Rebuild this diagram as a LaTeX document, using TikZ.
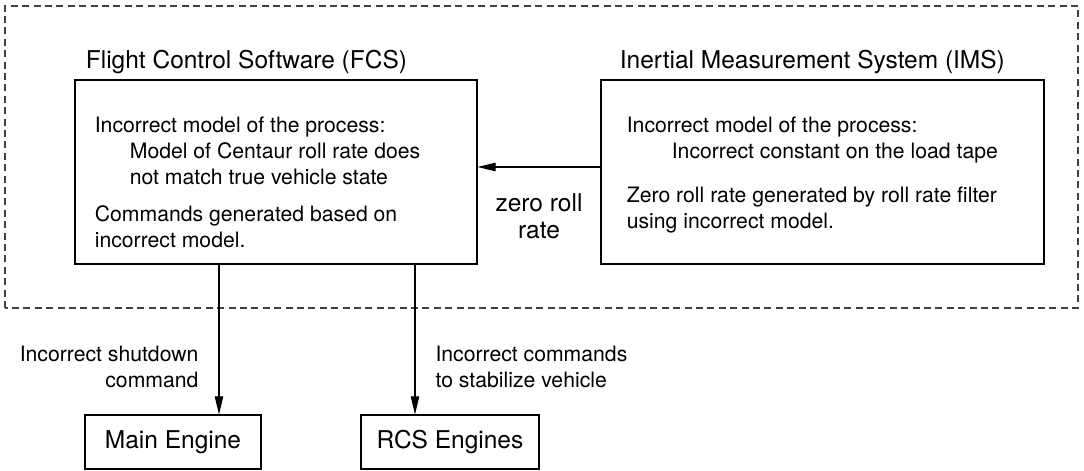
\documentclass[tikz,border=0pt]{standalone}
\usepackage{fontspec}
\setmainfont{TeX Gyre Heros}
\usetikzlibrary{arrows.meta,positioning,calc}
\newcommand{\titlesize}{\fontsize{12.25}{15}\selectfont}
\newcommand{\bodysize}{\fontsize{10.6}{13}\selectfont}
\tikzset{
  sysbox/.style={rectangle,draw,line width=0.55pt,minimum height=92pt,inner sep=0pt},
  engbox/.style={rectangle,draw,line width=0.55pt,minimum height=27pt,font=\titlesize},
  systitle/.style={inner sep=0pt,font=\titlesize},
  boxtext/.style={inner sep=0pt,align=left,font=\bodysize},
  elabel/.style={inner sep=0pt,font=\bodysize},
  arr/.style={-{Triangle[length=9pt,width=4.2pt]},line width=0.55pt},
  boundary/.style={draw=black!75,line width=0.6pt,dash pattern=on 3.5pt off 2.2pt},
}
\begin{document}
\begin{tikzpicture}[x=0.5pt,y=0.5pt]
  \useasboundingbox (0,0) rectangle (1084,471);

  % controller boundary
  \draw[boundary] (5,163) rectangle (1078,465);

  \node[sysbox,minimum width=201pt]   (FCS) at (276,299) {};
  \node[sysbox,minimum width=221.5pt] (IMS) at (822.5,299) {};
  \node[engbox,minimum width=88pt]    (ME)  at (173,29) {Main Engine};
  \node[engbox,minimum width=89pt]    (RCS) at (450,29) {RCS Engines};

  \node[systitle,anchor=base west] (FCStitle) at ([xshift=5.5pt,yshift=5.5pt]FCS.north west)
    {Flight Control Software (FCS)};
  \node[systitle,anchor=base west] (IMStitle) at ([xshift=9.5pt,yshift=5.5pt]IMS.north west)
    {Inertial Measurement System (IMS)};

  % base anchor sits on the last line
  \node[boxtext,anchor=base west] (FCStext) at ([xshift=10pt,yshift=8.5pt]FCS.south west)
    {Incorrect model of the process:\\
     \hspace*{17.5pt}Model of Centaur roll rate does\\
     \hspace*{17.5pt}not match true vehicle state\\[5.5pt]
     Commands generated based on\\
     incorrect model.};
  \node[boxtext,anchor=base west] (IMStext) at ([xshift=13pt,yshift=18pt]IMS.south west)
    {Incorrect model of the process:\\
     \hspace*{22.5pt}Incorrect constant on the load tape\\[9pt]
     Zero roll rate generated by roll rate filter\\
     using incorrect model.};

  \coordinate (MEin)  at ([xshift=23pt]ME.north);
  \coordinate (RCSin) at ([xshift=-17.5pt]RCS.north);

  \draw[arr] ([yshift=2.5pt]IMS.west) -- node[elabel,below=13pt,align=center,
      font=\fontsize{12.25}{13.5}\selectfont] (ZRR) {zero roll\\rate} ([yshift=2.5pt]FCS.east);
  \draw[arr] (MEin |- FCS.south) -- node[elabel,left=10pt,align=right,pos=0.685]
      {Incorrect shutdown\\command} (MEin);
  \draw[arr] (RCSin |- FCS.south) -- node[elabel,right=10pt,align=left,pos=0.685]
      {Incorrect commands\\to stabilize vehicle} (RCSin);
\end{tikzpicture}
\end{document}
